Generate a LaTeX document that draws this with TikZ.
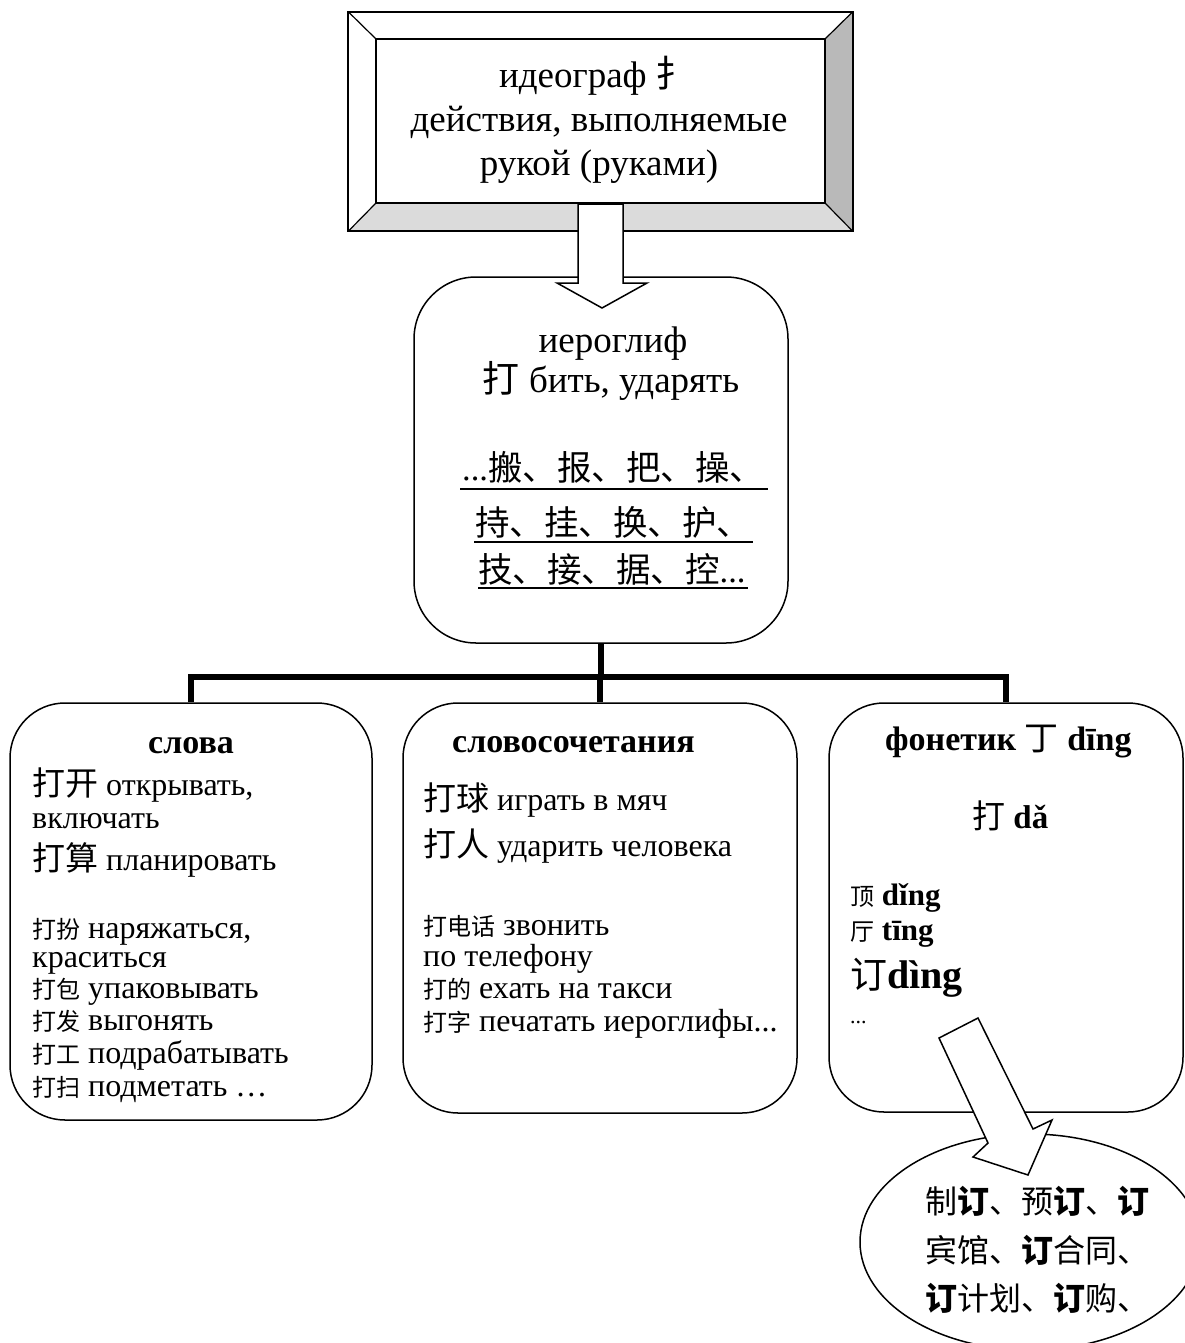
\documentclass[tikz,border=0pt]{standalone}
\usepackage{fontspec}
\setmainfont{Liberation Serif}
\newfontfamily\cjk{Noto Sans CJK SC}
\usetikzlibrary{shapes.geometric}
\newcommand{\myfs}[1]{\fontsize{#1}{#1}\selectfont}
\tikzset{
  rbox/.style={draw, line width=1.5pt, rounded corners=55pt, inner sep=0pt},
  txt/.style={inner sep=0pt, anchor=base west},
  ctxt/.style={inner sep=0pt, anchor=base},
  tree/.style={line width=5.5pt},
  barrow/.style={draw, fill=white, line width=1.5pt, line join=miter},
  uline/.style={line width=1.5pt},
  big/.style={font=\myfs{37}},
  mid/.style={font=\myfs{32}},
  head/.style={font=\bfseries\myfs{34}},
}
\begin{document}
\begin{tikzpicture}[x=1pt,y=-1pt]
\useasboundingbox (0,0) rectangle (1185,1343);
\fill[white] (0,0) rectangle (1185,1343);

% ---------- top bevelled box ----------
\node[minimum width=504pt, minimum height=219pt, inner sep=0pt] (top) at (600.5,121.5) {};
\node[minimum width=449pt, minimum height=164pt, inner sep=0pt] (topin) at (600.5,121) {};
\fill[gray!55] (top.north east) -- (top.south east) -- (topin.south east) -- (topin.north east) -- cycle;
\fill[gray!28] (top.south west) -- (top.south east) -- (topin.south east) -- (topin.south west) -- cycle;
\draw[line width=2pt] (top.north west) rectangle (top.south east);
\draw[line width=2pt] (topin.north west) rectangle (topin.south east);
\foreach \c in {north west, north east, south east, south west}
  \draw[line width=1.2pt] (top.\c) -- (topin.\c);
\node[ctxt, big] (t1) at (596,88) {идеограф {\cjk 扌}};
\node[ctxt, big] (t2) at (599,132) {действия, выполняемые};
\node[ctxt, big] (t3) at (599,176) {рукой (руками)};

% ---------- middle box ----------
\node[rbox, rounded corners=62pt, minimum width=374pt, minimum height=366pt] (mb) at (601,460) {};
\node[ctxt, big] (m1) at (613,352) {иероглиф};
\node[ctxt, big] (m2) at (611,392) {{\cjk 打} бить, ударять};
\node[txt, font=\myfs{34.5}] (l1) at (462,480) {...{\cjk 搬、报、把、操、}};
\node[txt, font=\myfs{34.5}] (l2) at (475,535) {{\cjk 持、挂、换、护、}};
\node[txt, font=\myfs{34.5}] (l3) at (478,582) {{\cjk 技、接、据、控}...};
\draw[uline] ([shift={(-2pt,-9pt)}]l1.base west) -- ([shift={(4pt,-9pt)}]l1.base east);
\draw[uline] ([shift={(-1pt,-7pt)}]l2.base west) -- ([shift={(2pt,-7pt)}]l2.base east);
\draw[uline] ([shift={(0pt,-6pt)}]l3.base west) -- ([shift={(2pt,-6pt)}]l3.base east);

% ---------- arrow from top box to middle box ----------
\draw[barrow] (578,204) -- (623,204) -- (623,283) -- (647,283) -- (602,308) -- (557,283) -- (578,283) -- cycle;

% ---------- lower boxes ----------
\node[rbox, minimum width=362pt, minimum height=417pt] (lb) at (191,911.5) {};
\node[rbox, minimum width=394pt, minimum height=410pt] (cb) at (600,908) {};
\node[rbox, minimum width=354pt, minimum height=409pt] (rb) at (1006,907.5) {};

% ---------- tree connector ----------
\coordinate (j) at (601,677);
\draw[tree] (mb.south) -- (j);
\draw[tree] (lb.north) |- (j) -| (rb.north);
\draw[tree] (cb.north) -- (cb.north |- j);

% ---------- left box text ----------
\node[ctxt, head] (s0) at (191,753) {слова};
\node[txt, mid] (s1) at (32,795) {{\cjk\myfs{33}打开} открывать,};
\node[txt, mid] (s2) at (32,828) {включать};
\node[txt, mid] (s3) at (32,870) {{\cjk\myfs{33}打算} планировать};
\node[txt, mid] (s4) at (32,938) {{\cjk\myfs{24}打扮} наряжаться,};
\node[txt, mid] (s5) at (32,967) {краситься};
\node[txt, mid] (s6) at (32,998) {{\cjk\myfs{24}打包} упаковывать};
\node[txt, mid] (s7) at (32,1030) {{\cjk\myfs{24}打发} выгонять};
\node[txt, mid] (s8) at (32,1063) {{\cjk\myfs{24}打工} подрабатывать};
\node[txt, mid] (s9) at (32,1096) {{\cjk\myfs{24}打扫} подметать …};

% ---------- centre box text ----------
\node[txt, head] (c0) at (452,752) {словосочетания};
\node[txt, mid] (c1) at (423,810) {{\cjk\myfs{33}打球} играть в мяч};
\node[txt, mid] (c2) at (423,856) {{\cjk\myfs{33}打人} ударить человека};
\node[txt, mid] (c3) at (423,935) {{\cjk\myfs{24}打电话} звонить};
\node[txt, mid] (c4) at (423,966) {по телефону};
\node[txt, mid] (c5) at (423,998) {{\cjk\myfs{24}打的} ехать на такси};
\node[txt, mid] (c6) at (423,1031) {{\cjk\myfs{24}打字} печатать иероглифы...};

% ---------- right box text ----------
\node[txt, head] (r0) at (885,750) {фонетик {\cjk\mdseries 丁} dīng};
\node[txt, font=\bfseries\myfs{33}] (r1) at (972,828) {{\cjk\mdseries 打} dǎ};
\node[txt, font=\bfseries\myfs{31}] (r2) at (850,905) {{\cjk\mdseries\myfs{24}顶} dǐng};
\node[txt, font=\bfseries\myfs{31}] (r3) at (850,940) {{\cjk\mdseries\myfs{24}厅} tīng};
\node[txt, font=\bfseries\myfs{40}] (r4) at (850,988) {{\cjk\mdseries\myfs{37}订}dìng};
\node[txt, font=\myfs{22}] (r5) at (850,1023) {...};

% ---------- ellipse ----------
\node[draw, ellipse, line width=1.5pt, minimum width=340pt, minimum height=216pt, inner sep=0pt] (el) at (1030,1242) {};
\node[txt, font=\cjk\myfs{32}] (e1) at (925,1213) {制{\bfseries 订}、预{\bfseries 订}、{\bfseries 订}};
\node[txt, font=\cjk\myfs{32}] (e2) at (925,1262) {宾馆、{\bfseries 订}合同、};
\node[txt, font=\cjk\myfs{32}] (e3) at (925,1310) {{\bfseries 订}计划、{\bfseries 订}购、};

% ---------- diagonal arrow ----------
\draw[barrow] (939,1038) -- (978,1018) -- (1033,1129) -- (1052,1120) -- (1028,1175) -- (973,1157) -- (988,1143) -- cycle;
\end{tikzpicture}
\end{document}
